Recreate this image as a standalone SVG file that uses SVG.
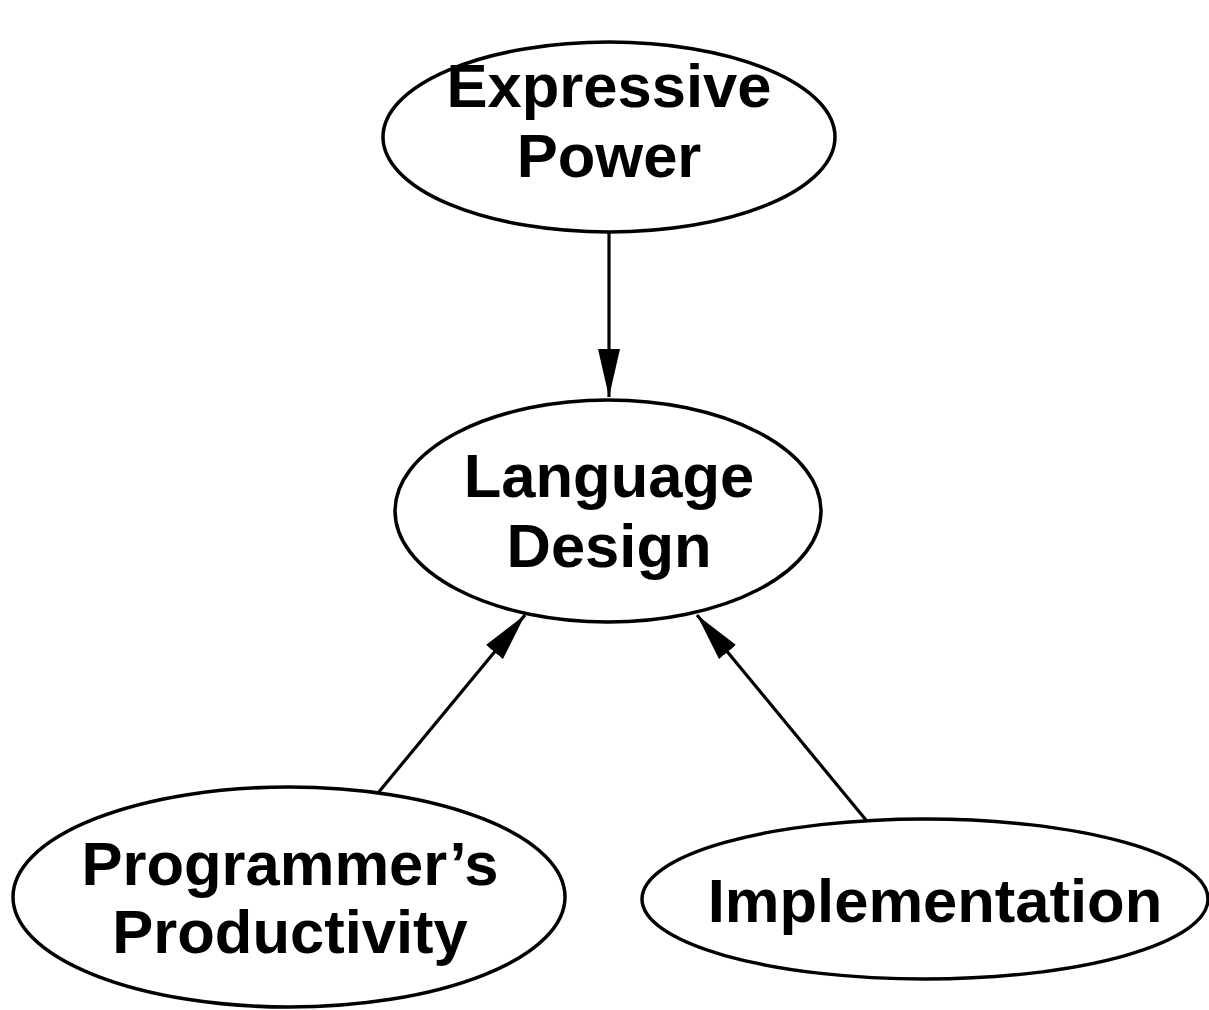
<svg xmlns="http://www.w3.org/2000/svg" width="1209" height="1010" viewBox="0 0 1209 1010">
  <style>
    .node ellipse { fill: #fff; stroke: #000; stroke-width: 3.5; }
    .node text { font-family: "Liberation Sans", Arial, sans-serif; font-weight: bold; font-size: 61.5px; text-anchor: middle; fill: #000; }
    .edge { stroke: #000; stroke-width: 3.2; fill: none; marker-end: url(#arrow); }
  </style>
  <defs>
    <marker id="arrow" markerUnits="userSpaceOnUse" viewBox="0 0 48 24" refX="48" refY="12" markerWidth="48" markerHeight="24" orient="auto">
      <path d="M0,1 L48,12 L0,23 Z" fill="#000"/>
    </marker>
  </defs>
  <rect width="1209" height="1010" fill="#fff"/>

  <g id="connectors">
    <line class="edge" x1="609" y1="232" x2="609" y2="397"/>
    <line class="edge" x1="378" y1="793" x2="525" y2="615"/>
    <line class="edge" x1="866" y1="820" x2="697" y2="615"/>
  </g>

  <g id="expressive-power" class="node">
    <ellipse cx="609" cy="137" rx="226" ry="95"/>
    <text x="609" y="107">Expressive</text>
    <text x="609" y="177">Power</text>
  </g>

  <g id="language-design" class="node">
    <ellipse cx="608" cy="511" rx="213" ry="111"/>
    <text x="609" y="497">Language</text>
    <text x="609" y="567">Design</text>
  </g>

  <g id="programmers-productivity" class="node">
    <ellipse cx="289" cy="897" rx="276" ry="110"/>
    <text x="290" y="885">Programmer’s</text>
    <text x="290" y="953">Productivity</text>
  </g>

  <g id="implementation" class="node">
    <ellipse cx="925" cy="899" rx="283" ry="80"/>
    <text x="935" y="922">Implementation</text>
  </g>
</svg>
